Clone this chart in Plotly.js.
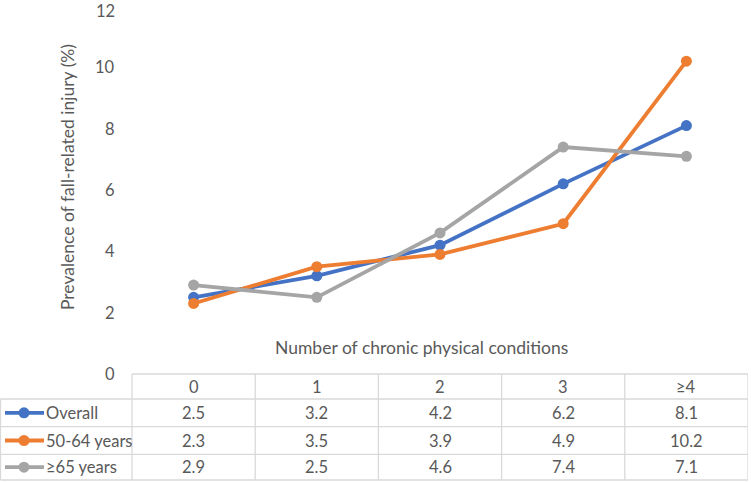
<!DOCTYPE html>
<html>
<head>
<meta charset="utf-8">
<script src="https://cdn.plot.ly/plotly-3.0.1.min.js"></script>
<style>html,body{margin:0;padding:0;background:#fff;}#chart{width:751px;height:482px;}</style>
</head>
<body>
<div id="chart"></div>
<script>
const categories = ["0", "1", "2", "3", "≥4"];
const seriesNames = ["Overall", "50-64 years", "≥65 years"];
const overall = [2.5, 3.2, 4.2, 6.2, 8.1];
const age5064 = [2.3, 3.5, 3.9, 4.9, 10.2];
const age65 = [2.9, 2.5, 4.6, 7.4, 7.1];
const yTickVals = [0, 2, 4, 6, 8, 10, 12];

const W = 751, H = 482;
const colors = ["#4472C4", "#ED7D31", "#A5A5A5"];
const textColor = "#595959";
const gridColor = "#d9d9d9";
const font = "Lato, 'Open Sans', sans-serif";
const series = [overall, age5064, age65];

const px = p => p / W;
const py = p => (H - p) / H;

const plotLeft = 132, plotRight = 748, plotTop = 6, plotBottom = 374;
const yMax = 12;
const rowEdges = [374, 399, 426.7, 454.3, 480];
const rowCenter = i => (rowEdges[i] + rowEdges[i + 1]) / 2;
const idx = categories.map((c, i) => i);

const traces = series.map((vals, s) => ({
  type: "scatter", mode: "lines+markers",
  x: idx, y: vals, name: seriesNames[s],
  line: {color: colors[s], width: 3.8},
  marker: {color: colors[s], size: 11},
  xaxis: "x", yaxis: "y", showlegend: false, hoverinfo: "skip", cliponaxis: false
}));

// legend glyphs in table rows (axis in pixel units)
series.forEach((vals, s) => {
  const yc = rowCenter(s + 1) - plotBottom;
  traces.push({
    type: "scatter", mode: "lines", x: [5, 44], y: [yc, yc],
    line: {color: colors[s], width: 3.8}, xaxis: "x2", yaxis: "y2",
    showlegend: false, hoverinfo: "skip"
  });
  traces.push({
    type: "scatter", mode: "markers", x: [24], y: [yc],
    marker: {color: colors[s], size: 11}, xaxis: "x2", yaxis: "y2",
    showlegend: false, hoverinfo: "skip"
  });
});

const shapes = [];
const line = {color: gridColor, width: 1.3};
shapes.push({type: "line", xref: "paper", yref: "paper", x0: px(plotLeft), x1: px(plotRight), y0: py(rowEdges[0]), y1: py(rowEdges[0]), line});
for (let i = 1; i < rowEdges.length; i++) {
  shapes.push({type: "line", xref: "paper", yref: "paper", x0: px(0.5), x1: px(plotRight), y0: py(rowEdges[i]), y1: py(rowEdges[i]), line});
}
shapes.push({type: "line", xref: "paper", yref: "paper", x0: px(0.5), x1: px(0.5), y0: py(rowEdges[1]), y1: py(rowEdges[4]), line});
shapes.push({type: "line", xref: "paper", yref: "paper", x0: px(plotLeft), x1: px(plotLeft), y0: py(rowEdges[0]), y1: py(rowEdges[4]), line});
idx.forEach(i => {
  shapes.push({type: "line", xref: "x", yref: "paper", x0: i + 0.5, x1: i + 0.5, y0: py(rowEdges[0]), y1: py(rowEdges[4]), line});
});

const annotations = [];
const tf = {family: font, size: 16.5, color: textColor};
const titleFont = {family: font, size: 17.5, color: textColor};
// y tick labels through the y axis scale
yTickVals.forEach(v => {
  annotations.push({xref: "paper", yref: "y", x: px(117), y: v, text: String(v), showarrow: false, font: tf, xanchor: "right", yanchor: "middle", yshift: v === yMax ? -5 : 0});
});
categories.forEach((c, i) => {
  annotations.push({xref: "x", yref: "paper", x: i, y: py(rowCenter(0)), text: c, showarrow: false, font: tf, xanchor: "center", yanchor: "middle"});
  series.forEach((vals, s) => {
    annotations.push({xref: "x", yref: "paper", x: i, y: py(rowCenter(s + 1)), text: vals[i].toFixed(1), showarrow: false, font: tf, xanchor: "center", yanchor: "middle"});
  });
});
seriesNames.forEach((n, s) => {
  annotations.push({xref: "paper", yref: "paper", x: px(44), y: py(rowCenter(s + 1)), text: n, showarrow: false, font: tf, xanchor: "left", yanchor: "middle"});
});
annotations.push({xref: "paper", yref: "paper", x: px(421), y: py(347), text: "Number of chronic physical conditions", showarrow: false, font: titleFont, xanchor: "center", yanchor: "middle"});
annotations.push({xref: "paper", yref: "paper", x: px(67), y: py(177), text: "Prevalence of fall-related injury (%)", showarrow: false, font: titleFont, textangle: -90, xanchor: "center", yanchor: "middle"});

const layout = {
  width: W, height: H,
  margin: {l: 0, r: 0, t: 0, b: 0, pad: 0},
  paper_bgcolor: "#fff", plot_bgcolor: "rgba(0,0,0,0)",
  showlegend: false,
  xaxis: {domain: [px(plotLeft), px(plotRight)], range: [-0.5, 4.5], showticklabels: false, showgrid: false, zeroline: false, showline: false, ticks: "", fixedrange: true},
  yaxis: {domain: [py(plotBottom), py(plotTop)], range: [0, yMax], tickvals: yTickVals, showticklabels: false, showgrid: false, zeroline: false, showline: false, ticks: "", fixedrange: true},
  xaxis2: {domain: [0, px(plotLeft)], range: [0, plotLeft], visible: false, fixedrange: true},
  yaxis2: {domain: [0, py(plotBottom)], range: [H - plotBottom, 0], visible: false, fixedrange: true},
  shapes, annotations
};

Plotly.newPlot("chart", traces, layout, {staticPlot: true, displayModeBar: false});
</script>
</body>
</html>
